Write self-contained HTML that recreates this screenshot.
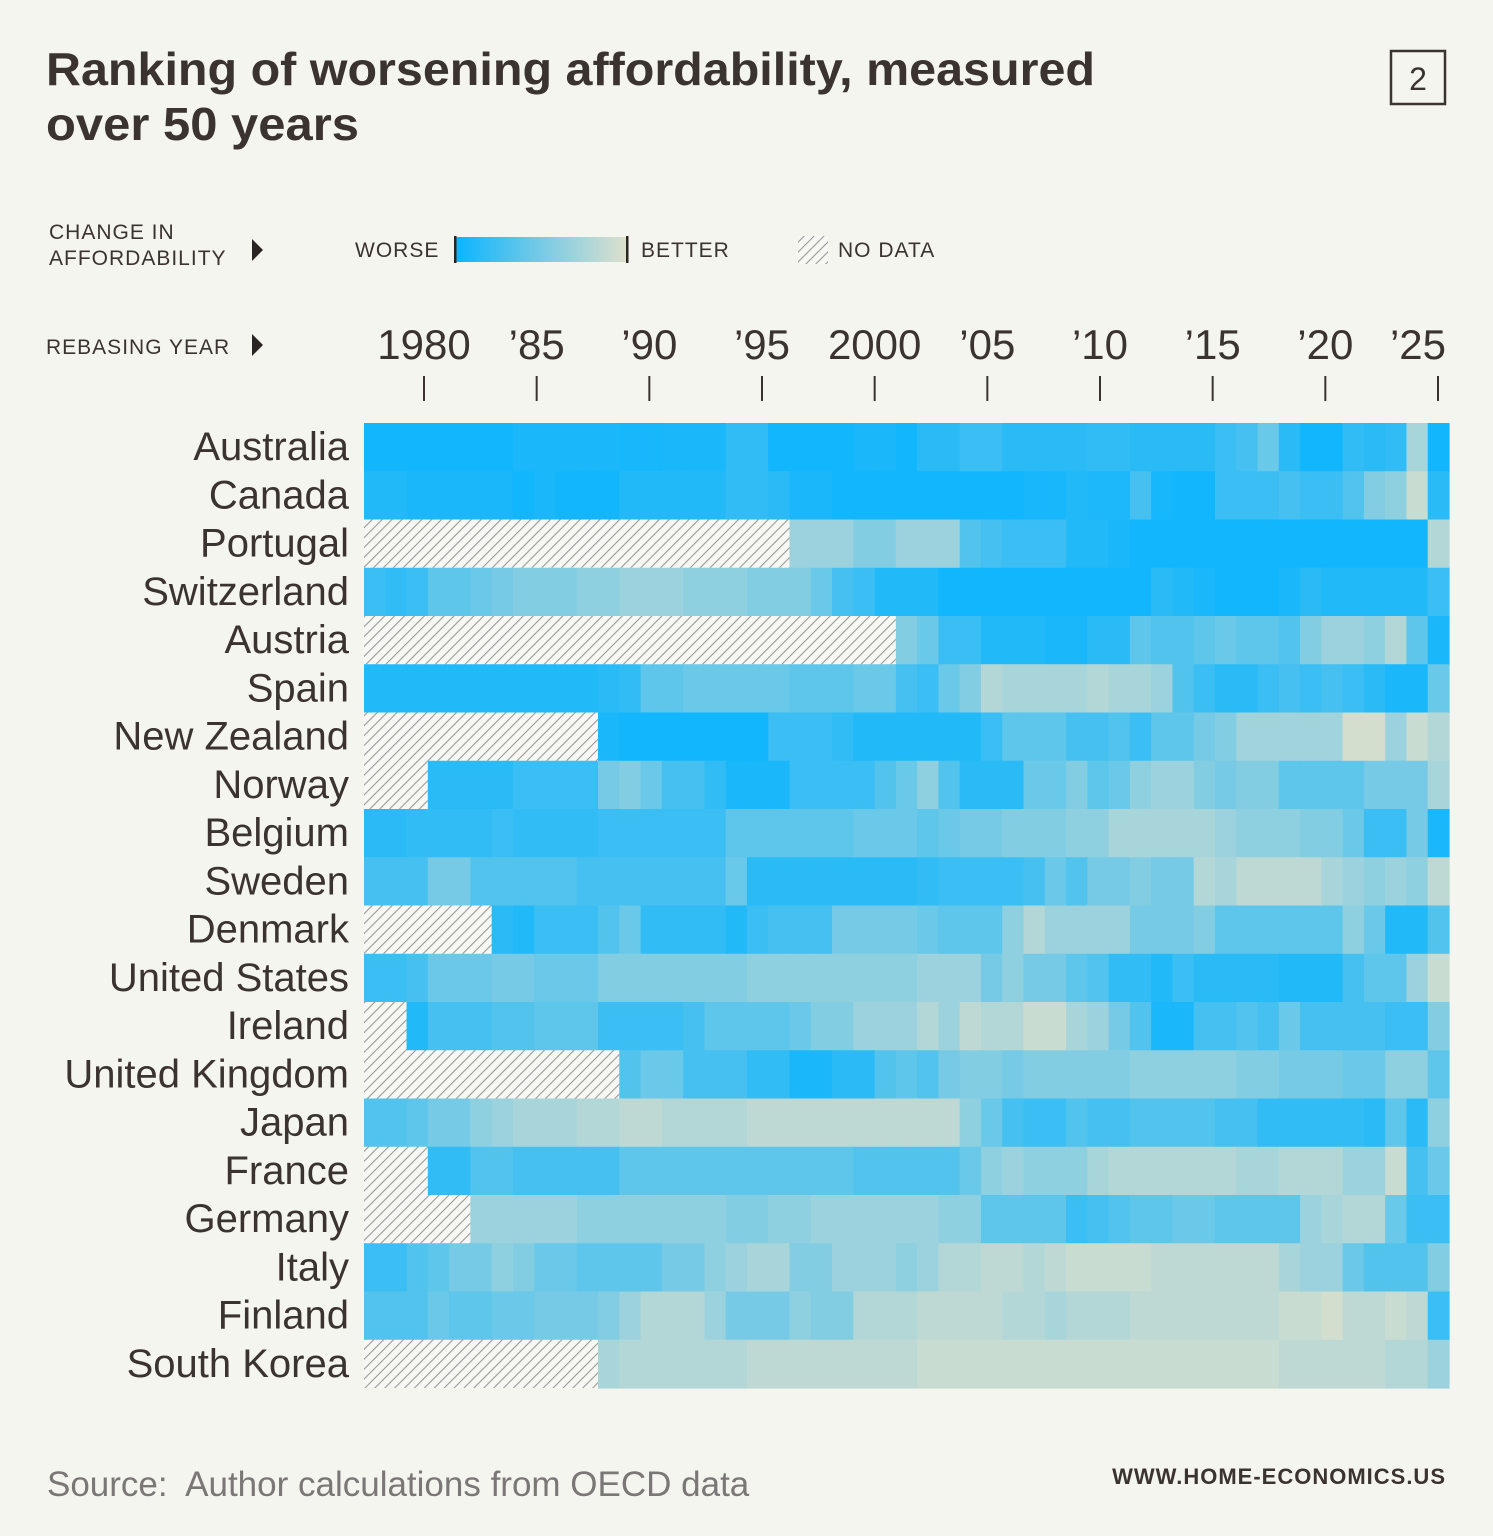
<!DOCTYPE html>
<html><head><meta charset="utf-8">
<style>
html,body{margin:0;padding:0;background:#f5f5f0;}
svg{display:block;font-family:"Liberation Sans",sans-serif;}
</style></head>
<body>
<svg id="chart" width="1493" height="1536" viewBox="0 0 1493 1536" xmlns="http://www.w3.org/2000/svg">
<defs>
<pattern id="hatch" patternUnits="userSpaceOnUse" width="7" height="7" patternTransform="rotate(45)">
<rect width="7" height="7" fill="#f7f7f3"/>
<line x1="0" y1="0" x2="0" y2="7" stroke="#9a9a98" stroke-width="2.2"/>
</pattern>
<linearGradient id="legGrad" x1="0" x2="1" y1="0" y2="0">
<stop offset="0" stop-color="#0ab4ff"/><stop offset="0.45" stop-color="#6cc8e8"/><stop offset="1" stop-color="#dee0cc"/>
</linearGradient>
</defs>
<rect width="1493" height="1536" fill="#f5f5f0"/>
<text x="46" y="85" font-size="46" font-weight="bold" fill="#3a3330" textLength="1049" lengthAdjust="spacingAndGlyphs">Ranking of worsening affordability, measured</text>
<text x="46" y="140" font-size="46" font-weight="bold" fill="#3a3330" textLength="313" lengthAdjust="spacingAndGlyphs">over 50 years</text>
<g>
<rect x="1391" y="51" width="54" height="53" fill="none" stroke="#3a3330" stroke-width="2.5"/>
<text x="1418" y="90" font-size="32" text-anchor="middle" fill="#3a3330">2</text>
</g>
<g fill="#3a3330">
<text x="49" y="239" font-size="21" letter-spacing="1">CHANGE IN</text>
<text x="49" y="265" font-size="21" letter-spacing="1">AFFORDABILITY</text>
<path d="M252 239 L263 250 L252 261 Z" fill="#2a2522"/>
<text x="355" y="257" font-size="21" letter-spacing="1">WORSE</text>
<rect x="455" y="237" width="172" height="25" fill="url(#legGrad)"/>
<rect x="454" y="236" width="2.5" height="27" fill="#2a2522"/>
<rect x="626" y="236" width="2.5" height="27" fill="#2a2522"/>
<text x="641" y="257" font-size="21" letter-spacing="1">BETTER</text>
<rect x="798" y="236" width="30" height="28" fill="url(#hatch)"/>
<text x="838" y="257" font-size="21" letter-spacing="1">NO DATA</text>
<text x="46" y="354" font-size="21" letter-spacing="1">REBASING YEAR</text>
<path d="M252 334 L263 345 L252 356 Z" fill="#2a2522"/>
</g>
<g id="xaxis"></g>
<g id="rows"></g>
<g id="cells"></g>
<text x="47" y="1496" font-size="35" fill="#7a7776" xml:space="preserve">Source:  Author calculations from OECD data</text>
<text x="1446" y="1484" font-size="22" font-weight="bold" fill="#3a3330" text-anchor="end" letter-spacing="1">WWW.HOME-ECONOMICS.US</text>
</svg>
<script>
const countries = ["Australia","Canada","Portugal","Switzerland","Austria","Spain","New Zealand","Norway","Belgium","Sweden","Denmark","United States","Ireland","United Kingdom","Japan","France","Germany","Italy","Finland","South Korea"];
const tickYears = [1980,1985,1990,1995,2000,2005,2010,2015,2020,2025];
const tickLabels = ["1980","\u201985","\u201990","\u201995","2000","\u201905","\u201910","\u201915","\u201920","\u201925"];
const N = null;
const australia = [.05,.05,.05,.05,.05,.05,.05,.1,.1,.1,.1,.1,.08,.08,.1,.1,.1,.25,.25,.05,.05,.05,.05,.1,.1,.05,.2,.2,.3,.3,.2,.2,.2,.2,.25,.25,.2,.2,.2,.2,.3,.35,.5,.2,.05,.05,.25,.2,.25,.75,.05];
const canada = [.15,.15,.1,.1,.1,.1,.1,.05,.1,.05,.05,.05,.15,.15,.15,.15,.15,.25,.25,.2,.1,.1,.05,.05,.05,.05,.05,.05,.05,.05,.05,.08,.08,.15,.12,.12,.35,.08,.05,.05,.3,.3,.3,.35,.3,.3,.4,.6,.65,.9,.2];
const portugal = [N,N,N,N,N,N,N,N,N,N,N,N,N,N,N,N,N,N,N,N,.7,.7,.7,.6,.6,.7,.7,.7,.4,.35,.3,.3,.3,.15,.15,.1,.05,.05,.05,.05,.05,.05,.05,.05,.05,.05,.05,.05,.05,.05,.8];
const switzerland = [.3,.25,.3,.45,.45,.5,.55,.6,.6,.6,.65,.65,.7,.7,.7,.65,.65,.65,.6,.6,.6,.5,.35,.3,.15,.15,.15,.05,.05,.05,.05,.05,.05,.05,.05,.05,.05,.2,.15,.1,.05,.05,.05,.1,.2,.15,.15,.15,.15,.15,.3];
const austria = [N,N,N,N,N,N,N,N,N,N,N,N,N,N,N,N,N,N,N,N,N,N,N,N,N,.6,.5,.3,.3,.15,.15,.15,.1,.1,.2,.2,.45,.4,.4,.45,.5,.45,.45,.4,.6,.7,.7,.65,.8,.45,.1];
const spain = [.15,.15,.15,.15,.15,.15,.15,.15,.15,.15,.15,.2,.25,.45,.45,.5,.5,.5,.5,.5,.45,.45,.45,.5,.5,.35,.3,.5,.6,.8,.75,.75,.75,.75,.8,.75,.75,.7,.4,.3,.2,.2,.3,.35,.3,.35,.3,.2,.1,.1,.5];
const newZealand = [N,N,N,N,N,N,N,N,N,N,N,.1,.05,.05,.05,.05,.05,.05,.05,.3,.3,.3,.25,.15,.15,.15,.15,.15,.15,.3,.45,.45,.45,.35,.35,.4,.3,.45,.45,.55,.6,.72,.72,.72,.72,.72,.95,.95,.7,.9,.8];
const norway = [N,N,N,.2,.2,.2,.2,.3,.3,.3,.3,.55,.6,.5,.35,.35,.25,.1,.1,.1,.3,.3,.3,.3,.4,.5,.65,.4,.2,.2,.2,.5,.5,.6,.45,.5,.65,.7,.7,.6,.55,.6,.6,.45,.45,.45,.45,.55,.55,.55,.75];
const belgium = [.2,.2,.25,.25,.25,.25,.3,.25,.25,.25,.25,.3,.3,.3,.3,.3,.3,.45,.45,.45,.45,.45,.45,.5,.5,.5,.45,.5,.55,.55,.6,.6,.6,.65,.65,.75,.75,.75,.75,.75,.7,.65,.65,.65,.6,.6,.5,.3,.3,.55,.1];
const sweden = [.35,.35,.35,.55,.55,.4,.4,.4,.4,.4,.35,.35,.35,.35,.35,.35,.35,.5,.2,.2,.2,.2,.2,.2,.2,.2,.25,.3,.3,.3,.3,.35,.5,.4,.55,.55,.6,.55,.55,.8,.75,.85,.85,.85,.85,.75,.7,.65,.7,.65,.85];
const denmark = [N,N,N,N,N,N,.2,.15,.3,.3,.3,.4,.5,.25,.25,.25,.25,.15,.3,.35,.35,.35,.55,.55,.55,.55,.5,.45,.45,.45,.65,.8,.7,.7,.7,.7,.55,.55,.55,.6,.45,.45,.45,.45,.45,.45,.65,.5,.15,.15,.4];
const unitedStates = [.3,.3,.35,.5,.5,.5,.55,.55,.5,.5,.5,.6,.6,.6,.6,.6,.6,.6,.65,.65,.65,.65,.65,.65,.65,.65,.7,.7,.7,.55,.65,.55,.55,.45,.4,.25,.25,.15,.3,.2,.2,.2,.2,.15,.15,.15,.35,.45,.45,.7,.9];
const ireland = [N,N,.15,.35,.35,.35,.4,.4,.45,.45,.45,.3,.3,.3,.3,.35,.45,.45,.45,.45,.5,.6,.6,.7,.7,.7,.8,.7,.85,.8,.8,.9,.9,.75,.7,.55,.4,.1,.1,.35,.35,.4,.35,.5,.35,.35,.35,.35,.3,.3,.6];
const unitedKingdom = [N,N,N,N,N,N,N,N,N,N,N,N,.4,.5,.5,.35,.35,.35,.25,.25,.1,.1,.2,.2,.4,.45,.4,.55,.6,.6,.55,.6,.6,.6,.6,.6,.65,.65,.65,.65,.65,.6,.6,.55,.55,.55,.5,.5,.65,.65,.45];
const japan = [.4,.4,.45,.55,.55,.65,.7,.75,.75,.75,.8,.8,.85,.85,.8,.8,.8,.8,.85,.85,.85,.85,.85,.85,.85,.85,.85,.85,.65,.5,.35,.3,.3,.4,.35,.35,.4,.4,.4,.4,.35,.35,.25,.25,.25,.25,.25,.2,.45,.2,.65];
const france = [N,N,N,.25,.25,.4,.4,.35,.35,.35,.35,.35,.45,.45,.45,.45,.45,.45,.45,.45,.45,.45,.45,.4,.4,.4,.4,.4,.5,.65,.7,.65,.65,.65,.75,.8,.8,.8,.8,.8,.8,.75,.75,.8,.8,.8,.7,.7,.9,.35,.5];
const germany = [N,N,N,N,N,.7,.7,.7,.7,.7,.65,.65,.65,.65,.65,.65,.65,.6,.6,.65,.65,.7,.7,.7,.7,.7,.7,.65,.65,.45,.45,.45,.45,.3,.35,.4,.45,.45,.5,.5,.45,.45,.45,.45,.7,.75,.8,.8,.5,.3,.3];
const italy = [.3,.3,.4,.45,.55,.55,.65,.6,.5,.5,.45,.45,.45,.45,.55,.55,.65,.7,.75,.75,.6,.6,.7,.7,.7,.65,.7,.8,.8,.85,.85,.8,.85,.9,.9,.9,.9,.85,.85,.85,.85,.85,.85,.75,.7,.7,.5,.4,.4,.4,.6];
const finland = [.4,.4,.4,.5,.45,.45,.5,.5,.55,.55,.55,.6,.7,.8,.8,.8,.7,.55,.55,.55,.65,.6,.6,.8,.8,.8,.85,.85,.85,.85,.8,.8,.75,.8,.8,.8,.85,.85,.85,.85,.85,.85,.85,.9,.9,.95,.85,.85,.9,.85,.3];
const southKorea = [N,N,N,N,N,N,N,N,N,N,N,.75,.8,.8,.8,.8,.8,.8,.85,.85,.85,.85,.85,.85,.85,.85,.9,.9,.9,.9,.9,.9,.9,.9,.9,.9,.9,.9,.9,.9,.9,.9,.9,.85,.85,.85,.85,.85,.8,.8,.7];
const series = [australia,canada,portugal,switzerland,austria,spain,newZealand,norway,belgium,sweden,denmark,unitedStates,ireland,unitedKingdom,japan,france,germany,italy,finland,southKorea];

const NS = "http://www.w3.org/2000/svg";
const plotL = 364, plotR = 1449, plotT = 423, plotB = 1388;
const nCols = 51;
const cellW = (plotR - plotL) / nCols;
const rowH = (plotB - plotT) / countries.length;
function xYear(y){ return 424 + (y - 1980) * (1438 - 424) / 45; }
function xCol(i){ return plotL + i * cellW; }
function yRow(r){ return plotT + r * rowH; }
const stops = [[0,[10,180,255]],[0.3,[58,190,243]],[0.55,[118,202,229]],[0.75,[168,213,218]],[1,[222,224,204]]];
function color(v){
  for (let i=1;i<stops.length;i++){
    if (v <= stops[i][0]){
      const a=stops[i-1], b=stops[i], t=(v-a[0])/(b[0]-a[0]);
      const c=a[1].map((x,k)=>Math.round(x+(b[1][k]-x)*t));
      return "rgb("+c.join(",")+")";
    }
  }
  return "rgb(222,224,204)";
}
const xaxis = document.getElementById("xaxis");
tickYears.forEach((yr,i)=>{
  const x = xYear(yr);
  const t = document.createElementNS(NS,"text");
  
  
  t.setAttribute("x", x); t.setAttribute("y", 359);
  t.setAttribute("font-size", "42"); t.setAttribute("fill", "#3a3330");
  t.setAttribute("text-anchor", i === tickYears.length-1 ? "end" : "middle");
  if (i === tickYears.length-1) t.setAttribute("x", 1446);
  t.textContent = tickLabels[i];
  xaxis.appendChild(t);
  const l = document.createElementNS(NS,"line");
  
  
  l.setAttribute("x1", x); l.setAttribute("x2", x);
  l.setAttribute("y1", 376); l.setAttribute("y2", 401);
  l.setAttribute("stroke", "#3a3330"); l.setAttribute("stroke-width", "2");
  xaxis.appendChild(l);
});
const rowsG = document.getElementById("rows");
const cellsG = document.getElementById("cells");
countries.forEach((name,r)=>{
  const t = document.createElementNS(NS,"text");
  
  
  t.setAttribute("x", 349); t.setAttribute("y", yRow(r) + rowH/2 + 13);
  t.setAttribute("font-size", "40"); t.setAttribute("fill", "#3a3330");
  t.setAttribute("text-anchor", "end");
  t.textContent = name;
  rowsG.appendChild(t);
  const vals = series[r];
  let nullEnd = 0;
  while (nullEnd < vals.length && vals[nullEnd] === null) nullEnd++;
  if (nullEnd > 0){
    const h = document.createElementNS(NS,"rect");
    
    
    h.setAttribute("x", xCol(0)); h.setAttribute("y", yRow(r));
    h.setAttribute("width", xCol(nullEnd) - xCol(0)); h.setAttribute("height", rowH);
    h.setAttribute("fill", "url(#hatch)");
    cellsG.appendChild(h);
  }
  vals.forEach((v,c)=>{
    if (v === null) return;
    const rc = document.createElementNS(NS,"rect");
    
    
    rc.setAttribute("x", xCol(c)); rc.setAttribute("y", yRow(r));
    rc.setAttribute("width", cellW + 0.6); rc.setAttribute("height", rowH + 0.6);
    rc.setAttribute("fill", color(v));
    cellsG.appendChild(rc);
  });
});
</script>
</body></html>
